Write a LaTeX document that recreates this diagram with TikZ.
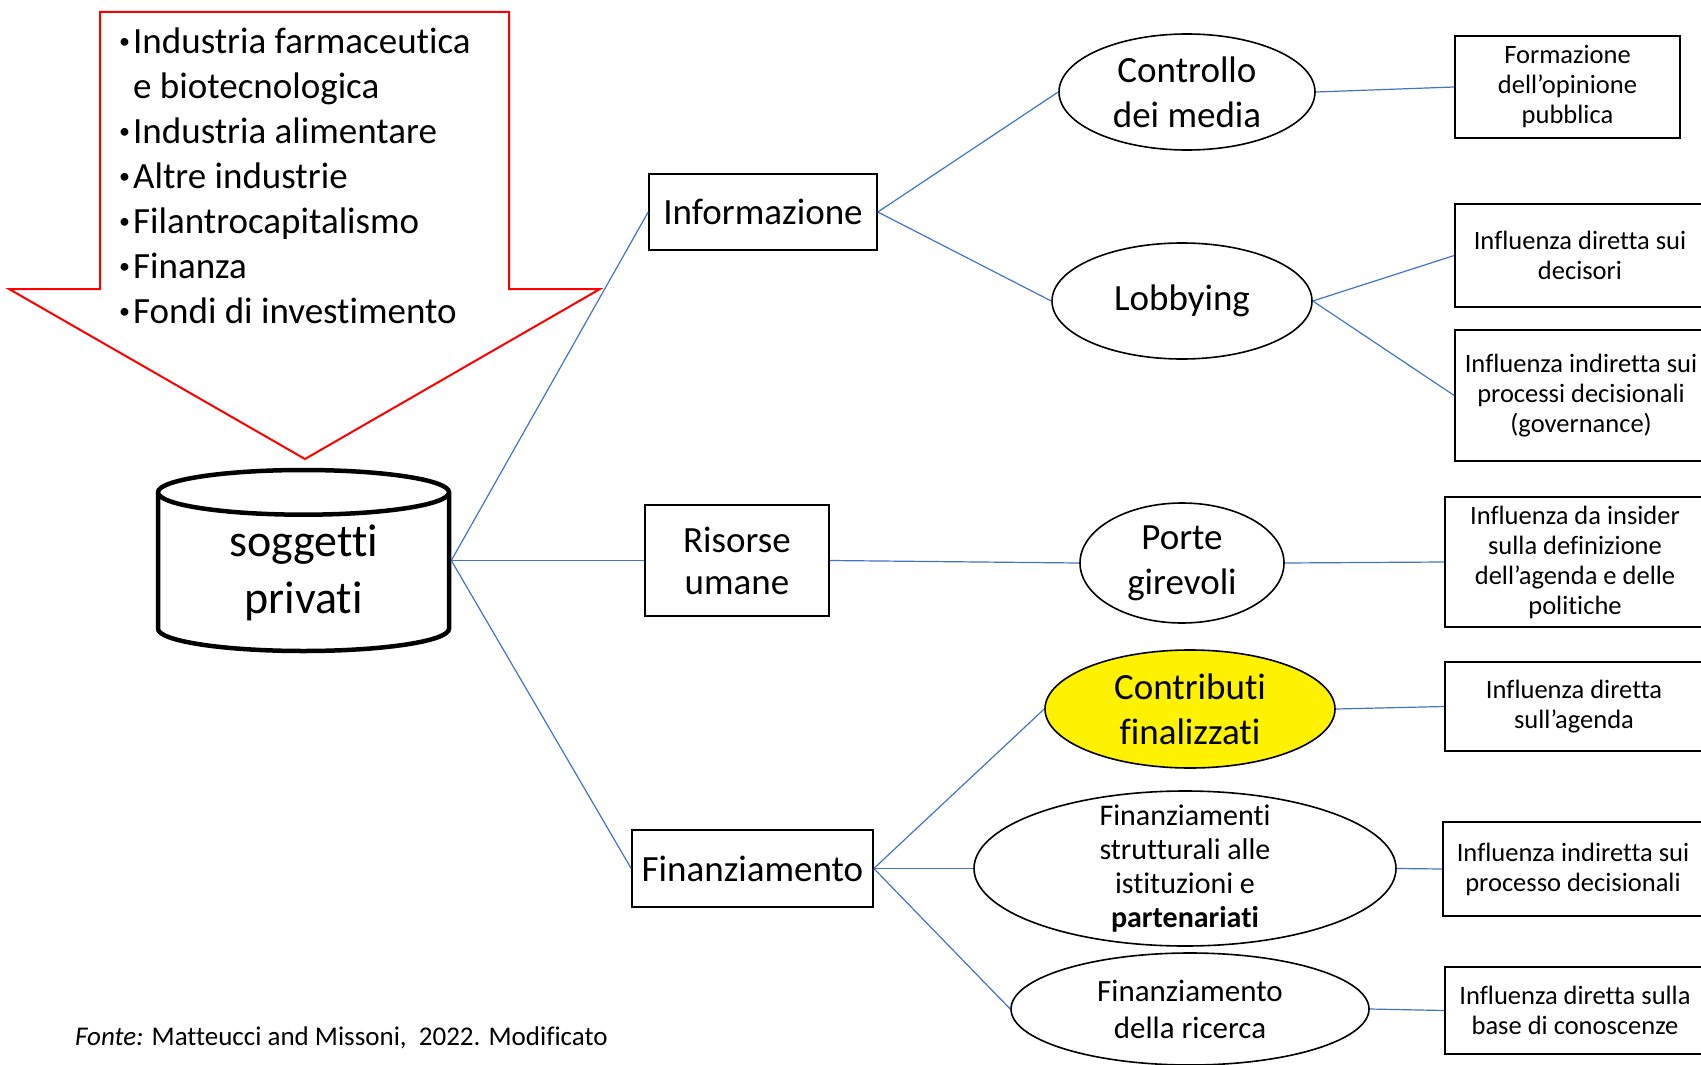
\documentclass[tikz,border=0pt]{standalone}
\usepackage{fontspec}
\setmainfont{Carlito}[Ligatures=NoCommon]
\usetikzlibrary{shapes.geometric}
\definecolor{linkblue}{RGB}{68,114,196}
\newcommand{\itemdot}{{\fontsize{22}{22}\selectfont\raisebox{5pt}{•}}\kern3pt}

\begin{document}
\begin{tikzpicture}[x=1pt,y=-1pt,
    actor/.style ={cylinder, shape border rotate=90, draw, line width=4.5pt, aspect=0.3, inner sep=0pt,
                   minimum width=291pt, minimum height=181pt, align=center, font=\fontsize{46}{57}\selectfont},
    channel/.style ={rectangle, draw, line width=1.6pt, inner sep=0pt, align=center, font=\fontsize{37}{42}\selectfont},
    mechanism/.style ={ellipse, draw, line width=1.6pt, inner sep=0pt},
    mechtext/.style ={align=center, font=\fontsize{37}{45}\selectfont},
    effect/.style ={rectangle, draw, line width=1.6pt, inner sep=0pt, align=center, font=\fontsize{26.5}{30}\selectfont},
    link/.style ={draw=linkblue, line width=1.2pt}]
   \useasboundingbox[fill=white] (0,0) rectangle (1701,1065);
   \clip (0,0) rectangle (1701,1065);
   % red arrow with the list of actors
   \draw[red, line width=2pt] (100,12) -- (509,12) -- (509,289) -- (600,289) -- (305,459) -- (9,289) -- (100,289) -- cycle;
   \node[anchor=north west, inner sep=0pt, align=left, font=\fontsize{37}{45}\selectfont] (sectors) at (119,28)
     {\itemdot Industria farmaceutica\\\hphantom{\itemdot}e biotecnologica\\\itemdot Industria alimentare\\\itemdot Altre industrie\\
      \itemdot Filantrocapitalismo\\\itemdot Finanza\\\itemdot Fondi di investimento};
   \node[actor, anchor=shape center] (actor) at (303.5,560.5) {soggetti\\privati};
   \coordinate (hub) at (actor.shape center -| actor.east);
   % channels
   \node[channel, minimum width=228pt, minimum height=76pt] (info)  at (763,212)   {Informazione};
   \node[channel, minimum width=184pt, minimum height=111pt] (human) at (737,560.5) {Risorse\\umane};
   \node[channel, minimum width=241pt, minimum height=77pt] (funding) at (752.5,868.5) {Finanziamento};
   % mechanisms
   \node[mechanism, minimum width=256pt, minimum height=116pt, label={[mechtext]center:Controllo\\dei media}] (media) at (1187,92) {};
   \node[mechanism, minimum width=260pt, minimum height=116pt, label={[mechtext]center:Lobbying}] (lobby) at (1182,301) {};
   \node[mechanism, minimum width=204pt, minimum height=120pt, label={[mechtext]center:Porte\\girevoli}] (doors) at (1182,563) {};
   \node[mechanism, fill=yellow, minimum width=290pt, minimum height=118pt, label={[mechtext]center:Contributi\\finalizzati}] (grants) at (1190,709) {};
   \node[mechanism, minimum width=422pt, minimum height=155pt,
         label={[mechtext, font=\fontsize{30}{34}\selectfont]center:Finanziamenti\\strutturali alle\\istituzioni e\\\textbf{partenariati}}] (struct) at (1185,868.5) {};
   \node[mechanism, minimum width=358pt, minimum height=112pt,
         label={[mechtext, font=\fontsize{31}{37}\selectfont]center:Finanziamento\\della ricerca}] (research) at (1190,1009) {};
   % effects
   \node[effect, minimum width=225pt, minimum height=102pt] (opinion)  at (1567.5,87)   {Formazione\\dell’opinione\\pubblica};
   \node[effect, minimum width=250pt, minimum height=103pt] (direct)   at (1580,255.5)  {Influenza diretta sui\\decisori};
   \node[effect, minimum width=252pt, minimum height=131pt] (indirect) at (1581,395.5)  {Influenza indiretta sui\\processi decisionali\\(governance)};
   \node[effect, minimum width=260pt, minimum height=130pt] (insider)  at (1575,562)    {Influenza da insider\\sulla definizione\\dell’agenda e delle\\politiche};
   \node[effect, minimum width=258pt, minimum height=89pt]  (agenda)   at (1574,706.5)  {Influenza diretta\\sull’agenda};
   \node[effect, minimum width=260pt, minimum height=94pt]  (process)  at (1573,869)    {Influenza indiretta sui\\processo decisionali};
   \node[effect, minimum width=260pt, minimum height=87pt]  (knowledge) at (1575,1010.5) {Influenza diretta sulla\\base di conoscenze};
   % connectors
   \draw[link] (hub) to (info.west);
   \draw[link] (hub) to (human.west);
   \draw[link] (hub) to (funding.west);
   \draw[link] (info.east) to (media.west);
   \draw[link] (info.east) to (lobby.west);
   \draw[link] (human.east) to (doors.west);
   \draw[link] (funding.east) to (grants.west);
   \draw[link] (funding.east) to (struct.west);
   \draw[link] (funding.east) to (research.west);
   \draw[link] (media.east) to (opinion.west);
   \draw[link] (lobby.east) to (direct.west);
   \draw[link] (lobby.east) to (indirect.west);
   \draw[link] (doors.east) to (insider.west);
   \draw[link] (grants.east) to (agenda.west);
   \draw[link] (struct.east) to (process.west);
   \draw[link] (research.east) to (knowledge.west);
   \node[anchor=west, inner sep=0pt, font=\fontsize{27}{32}\selectfont] (source) at (75,1038)
     {\textit{Fonte:} Matteucci and Missoni,~ 2022. Modificato};
 \end{tikzpicture}
\end{document}
